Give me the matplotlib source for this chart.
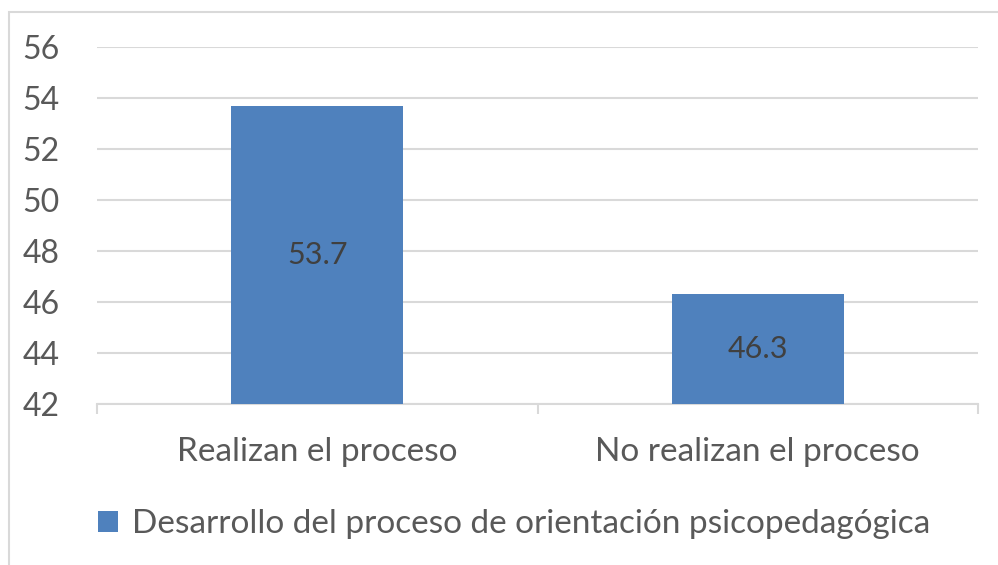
import matplotlib.pyplot as plt
from matplotlib.patches import Rectangle

# Data
categories = ["Realizan el proceso", "No realizan el proceso"]
values = [53.7, 46.3]
series_name = "Desarrollo del proceso de orientación psicopedagógica"
y_ticks = [42, 44, 46, 48, 50, 52, 54, 56]

bar_color = "#4F81BD"
grid_color = "#D9D9D9"
text_color = "#595959"

plt.rcParams["font.family"] = ["Lato", "DejaVu Sans"]

fig = plt.figure(figsize=(9.98, 5.65), dpi=100)
ax = fig.add_axes([97 / 998, 161 / 565, 881 / 998, 357 / 565])

# chart border (cropped at right/bottom in the original)
fig.patches.append(Rectangle((9 / 998, -0.2), 1.2, 1.2 + (565 - 12) / 565 - 1.0,
                             transform=fig.transFigure, fill=False,
                             edgecolor=grid_color, linewidth=1.5))

x = list(range(len(categories)))
bars = ax.bar(x, [v - y_ticks[0] for v in values], bottom=y_ticks[0], width=0.39,
              color=bar_color, label=series_name, zorder=3)

for xi, v in zip(x, values):
    mid = (y_ticks[0] + v) / 2
    ax.text(xi, mid, f"{v:.1f}", ha="center", va="center", fontsize=22,
            color="#404040", zorder=4)

ax.set_xlim(-0.5, len(categories) - 0.5)
ax.set_ylim(y_ticks[0], y_ticks[-1])
ax.set_yticks(y_ticks)
ax.yaxis.grid(True, color=grid_color, linewidth=1.5, zorder=0)
ax.tick_params(axis="y", length=0, labelsize=23, labelcolor=text_color, pad=27)

ax.set_xticks([-0.5, 0.5, 1.5], minor=False)
ax.set_xticklabels([])
ax.tick_params(axis="x", which="major", length=7, color=grid_color, width=1.5)
ax.set_xticks(x, minor=True)
ax.set_xticklabels(categories, minor=True)
ax.tick_params(axis="x", which="minor", length=0, labelsize=24,
               labelcolor=text_color, pad=24)

for side in ["top", "right", "left"]:
    ax.spines[side].set_visible(False)
ax.spines["bottom"].set_color(grid_color)
ax.spines["bottom"].set_linewidth(1.5)

fig.legend(handles=[bars], labels=[series_name], loc="center",
           bbox_to_anchor=(0.515, 1 - 524 / 565), frameon=False, fontsize=24,
           labelcolor=text_color, handlelength=0.6, handleheight=0.6,
           handletextpad=0.4)

fig.savefig("out.png", dpi=100)
